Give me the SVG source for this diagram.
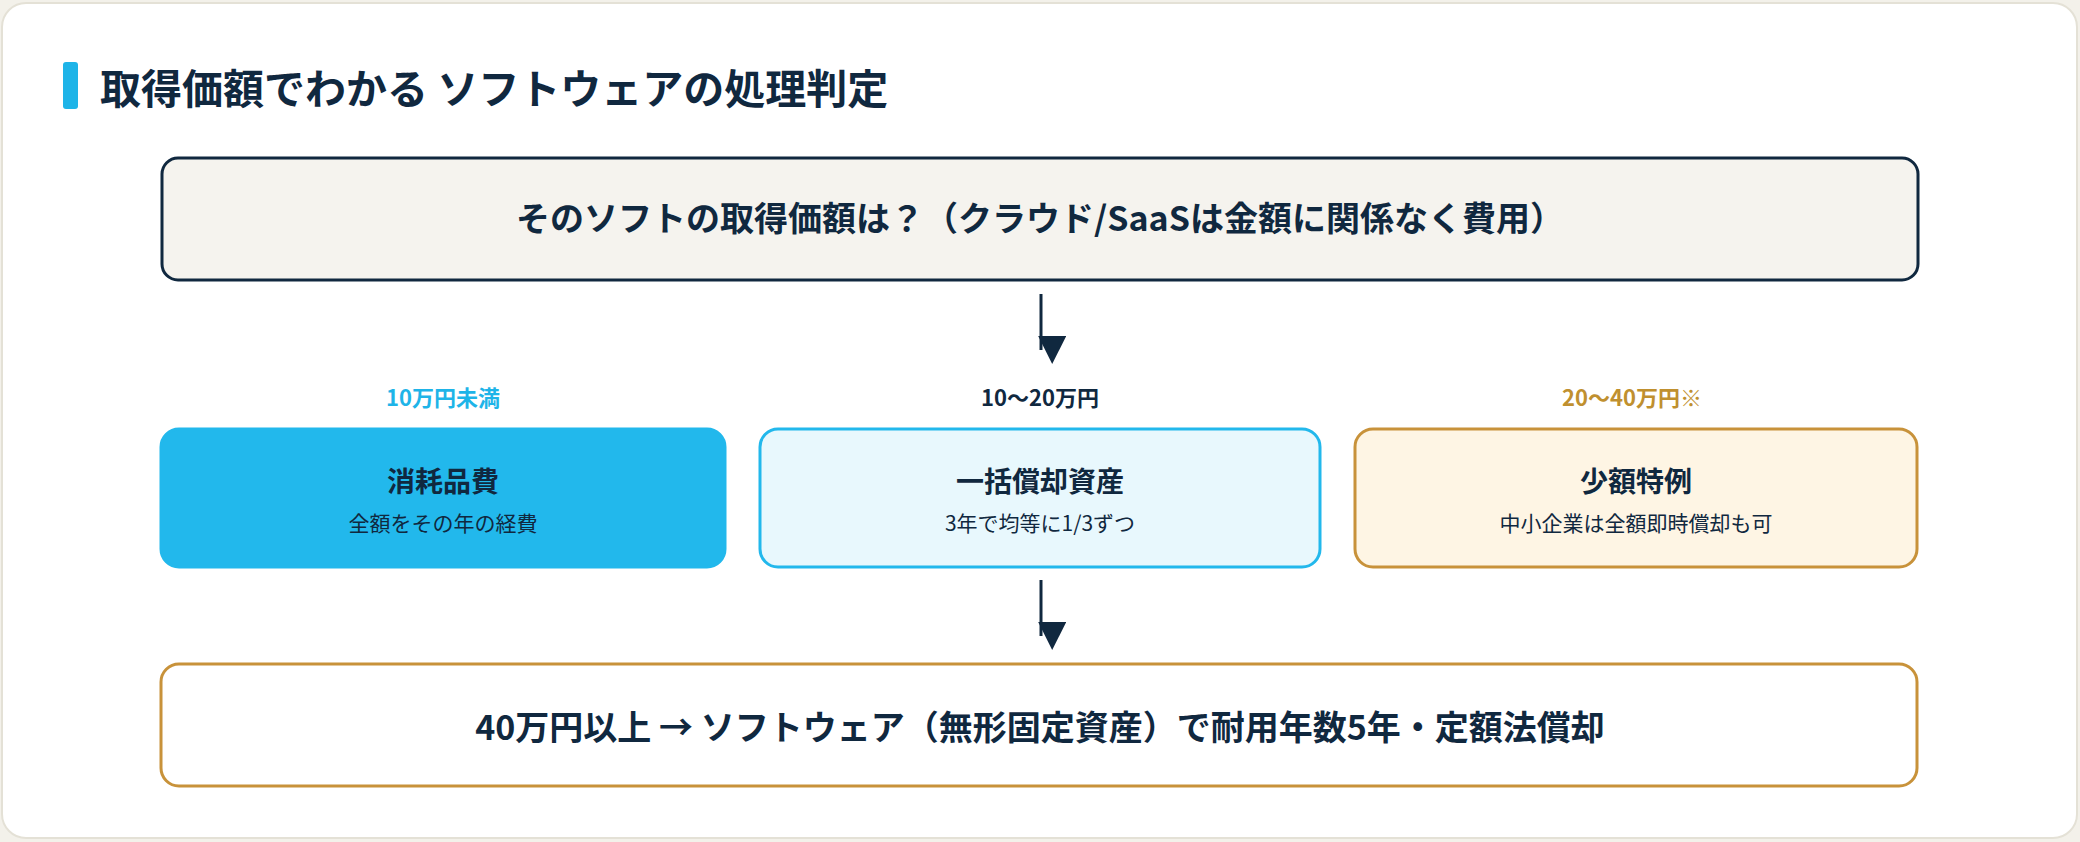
<svg xmlns="http://www.w3.org/2000/svg" width="2080" height="842" viewBox="0 0 2080 842">
<defs>
<style>
text{font-family:"Noto Sans CJK JP","Noto Sans",sans-serif;font-weight:700;text-anchor:middle;fill:#10283f}
.sub{font-weight:400;font-size:21px}
.t{font-size:28px}
.big{font-size:34px}
.lbl{font-size:22px}
</style>
<marker id="ah" viewBox="0 0 10 10" refX="5" refY="9" markerWidth="28" markerHeight="28" markerUnits="userSpaceOnUse" orient="auto-start-reverse">
<path d="M0,0 L10,0 L5,10 z" fill="#10283f" transform="rotate(-90 5 5)"/>
</marker>
</defs>
<rect x="0" y="0" width="2080" height="842" fill="#f3f1ea"/>
<rect x="2" y="3" width="2075" height="835" rx="24" fill="#ffffff" stroke="#e4e1d6" stroke-width="2"/>
<g id="title">
<rect x="63" y="62" width="15" height="47" rx="3" fill="#1eb4e8"/>
<text x="100" y="104" style="text-anchor:start;font-size:41px">取得価額でわかる ソフトウェアの処理判定</text>
</g>
<g id="question">
<rect x="162" y="158" width="1756" height="122" rx="16" fill="#f5f3ee" stroke="#10283f" stroke-width="3"/>
<text x="1040" y="231" class="big">そのソフトの取得価額は？（クラウド/SaaSは金額に関係なく費用）</text>
</g>
<g id="connectors" stroke="#10283f" stroke-width="3">
<line x1="1041" y1="294" x2="1041" y2="350" marker-end="url(#ah)"/>
<line x1="1041" y1="580" x2="1041" y2="636" marker-end="url(#ah)"/>
</g>
<g id="n1">
<text x="443" y="406" class="lbl" style="fill:#1eb4e8">10万円未満</text>
<rect x="161" y="429" width="564" height="138" rx="18" fill="#22b8ec" stroke="#22b8ec" stroke-width="3"/>
<text x="443" y="492" class="t">消耗品費</text>
<text x="443" y="531" class="sub">全額をその年の経費</text>
</g>
<g id="n2">
<text x="1040" y="406" class="lbl">10〜20万円</text>
<rect x="760" y="429" width="560" height="138" rx="18" fill="#e8f8fd" stroke="#22b8ec" stroke-width="3"/>
<text x="1040" y="492" class="t">一括償却資産</text>
<text x="1040" y="531" class="sub">3年で均等に1/3ずつ</text>
</g>
<g id="n3">
<text x="1632" y="406" class="lbl" style="fill:#c0902f">20〜40万円<tspan style="font-weight:400">※</tspan></text>
<rect x="1355" y="429" width="562" height="138" rx="18" fill="#fef5e4" stroke="#c8923a" stroke-width="3"/>
<text x="1636" y="492" class="t">少額特例</text>
<text x="1636" y="531" class="sub">中小企業は全額即時償却も可</text>
</g>
<g id="result">
<rect x="161" y="664" width="1756" height="122" rx="18" fill="#ffffff" stroke="#c8923a" stroke-width="3"/>
<text x="1040" y="740" class="big">40万円以上 → ソフトウェア（無形固定資産）で耐用年数5年・定額法償却</text>
</g>
</svg>
